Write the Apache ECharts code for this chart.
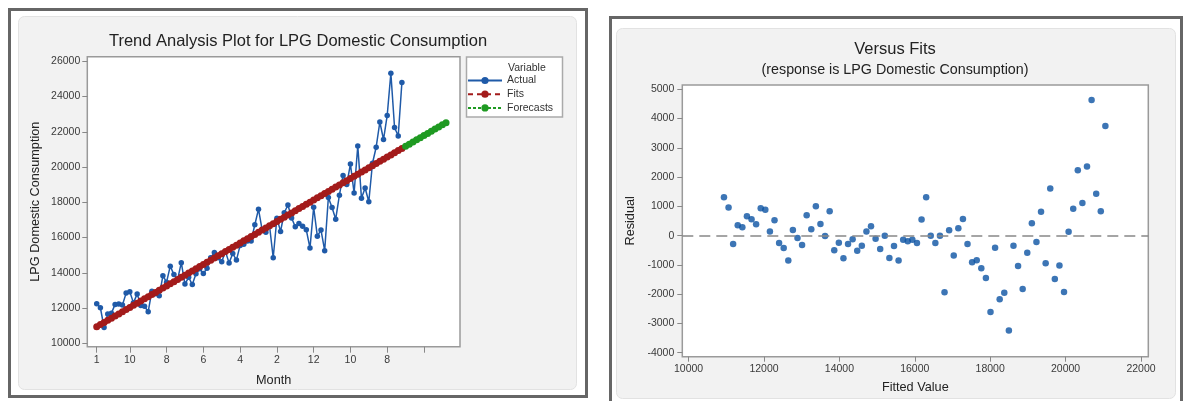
<!DOCTYPE html>
<html><head><meta charset="utf-8">
<script src="https://cdn.jsdelivr.net/npm/echarts@6/dist/echarts.min.js"></script>
<style>html,body{margin:0;padding:0;background:#fff}#c{width:1185px;height:401px}</style>
</head><body><div id="c"></div>
<script>
// ---- data ----
const trendIntercept = 10816;   // Yt = a + b*t
const trendSlope = 121.9;
const forecastPeriods = 12;
const actual = [
  12248,12017,10897,11657,11711,12208,12227,12178,12847,12923,
  12294,12803,12150,12102,11791,12960,12808,12691,13827,13470,
  14378,13897,13609,14573,13363,13746,13333,13944,14226,13960,
  14253,14854,15158,14858,14627,15204,14563,15095,14720,15555,
  15620,15799,15807,16727,17612,16423,16294,16667,14853,17093,
  16350,17406,17846,17114,16610,16799,16648,16440,15400,17720,
  16077,16426,15256,18276,17704,17039,18402,19526,19011,20169,
  18526,21199,18234,18812,18034,20217,21125,22556,21562,22926,
  25326,22247,21765,24803
];
const monthTickIdx = [1,10,20,30,40,50,60,70,80,90];
const monthTickLabels = ['1','10','8','6','4','2','12','10','8',''];
const consumptionTicks = [10000,12000,14000,16000,18000,20000,22000,24000,26000];
const fittedTicks = [10000,12000,14000,16000,18000,20000,22000];
const residualTicks = [-4000,-3000,-2000,-1000,0,1000,2000,3000,4000,5000];

// ---- derived series ----
const actualData = actual.map((v, i) => [i + 1, v]);
const fitsData = actual.map((v, i) => [i + 1, trendIntercept + trendSlope * (i + 1)]);
const forecastData = [];
for (let t = actual.length + 1; t <= actual.length + forecastPeriods; t++) {
  forecastData.push([t, trendIntercept + trendSlope * t]);
}
const residData = actual.map((v, i) => [fitsData[i][1], v - fitsData[i][1]]);

const FONT = '"Liberation Sans", Arial, sans-serif';
const LBL = {fontFamily: FONT, fontSize: 10.5, color: '#3a3a3a'};
const NAME = {fontFamily: FONT, fontSize: 12.7, color: '#222'};
const BLUE = '#1f5aa8', RED = '#a31b1b', GREEN = '#1f9a22', DOT = '#0b52a3';

const chart = echarts.init(document.getElementById('c'), null, {renderer: 'canvas'});
chart.setOption({
  animation: false,
  backgroundColor: '#fff',
  graphic: [
    {type: 'rect', z: -10, shape: {x: 9.5, y: 9.5, width: 577, height: 387}, style: {fill: '#fff', stroke: '#666', lineWidth: 3}},
    {type: 'rect', z: -9, shape: {x: 18.5, y: 16.5, width: 558, height: 373, r: 6}, style: {fill: '#f2f2f2', stroke: '#e2e2e2', lineWidth: 1}},
    {type: 'rect', z: -10, shape: {x: 610.5, y: 17.5, width: 571, height: 400}, style: {fill: '#fff', stroke: '#666', lineWidth: 3}},
    {type: 'rect', z: -9, shape: {x: 616.5, y: 28.5, width: 559, height: 370, r: 6}, style: {fill: '#f2f2f2', stroke: '#e2e2e2', lineWidth: 1}},
    {type: 'rect', z: -5, shape: {x: 466.5, y: 57, width: 96, height: 60}, style: {fill: '#fff', stroke: '#aaa', lineWidth: 1.5}},
    {type: 'text', z: 5, x: 508, y: 68.5, style: {text: 'Variable', font: '10.5px ' + FONT, fill: '#333', align: 'left', verticalAlign: 'middle'}},
    {type: 'text', z: 5, x: 298, y: 41, style: {text: 'Trend Analysis Plot for LPG Domestic Consumption', font: '16.5px ' + FONT, fill: '#222', align: 'center', verticalAlign: 'middle'}},
    {type: 'text', z: 5, x: 895, y: 49.5, style: {text: 'Versus Fits', font: '16.5px ' + FONT, fill: '#222', align: 'center', verticalAlign: 'middle'}},
    {type: 'text', z: 5, x: 895, y: 70, style: {text: '(response is LPG Domestic Consumption)', font: '14.3px ' + FONT, fill: '#222', align: 'center', verticalAlign: 'middle'}}
  ],
  legend: {
    data: [
      {name: 'Actual', lineStyle: {width: 2}},
      {name: 'Fits', lineStyle: {width: 2, type: [5, 4]}},
      {name: 'Forecasts', lineStyle: {width: 2, type: [3, 2]}}
    ],
    orient: 'vertical', left: 467, top: 74.5, padding: 0,
    itemWidth: 34, itemHeight: 9, itemGap: 1.7,
    textStyle: {fontFamily: FONT, fontSize: 10.5, color: '#333', lineHeight: 12},
    selectedMode: false
  },
  grid: [
    {left: 87.3, top: 56.7, width: 372.7, height: 290, show: true, backgroundColor: '#fff', borderColor: '#9a9a9a', borderWidth: 1.5},
    {left: 682.3, top: 85, width: 466, height: 271.7, show: true, backgroundColor: '#fff', borderColor: '#9a9a9a', borderWidth: 1.5}
  ],
  xAxis: [
    {type: 'value', gridIndex: 0, min: -1.56, max: 99.8,
     axisLine: {show: false, onZero: false}, splitLine: {show: false},
     axisTick: {show: true, customValues: monthTickIdx, length: 6, lineStyle: {color: '#888'}},
     axisLabel: {customValues: monthTickIdx, margin: 8, ...LBL,
       formatter: v => { const k = monthTickIdx.indexOf(v); return k >= 0 ? monthTickLabels[k] : ''; }},
     name: 'Month', nameLocation: 'middle', nameGap: 27, nameTextStyle: NAME},
    {type: 'value', gridIndex: 1, min: 9833, max: 22194,
     axisLine: {show: false, onZero: false}, splitLine: {show: false},
     axisTick: {show: true, customValues: fittedTicks, length: 5, lineStyle: {color: '#888'}},
     axisLabel: {customValues: fittedTicks, margin: 7, ...LBL, formatter: v => String(v)},
     name: 'Fitted Value', nameLocation: 'middle', nameGap: 24, nameTextStyle: NAME}
  ],
  yAxis: [
    {type: 'value', gridIndex: 0, min: 9807, max: 26261,
     axisLine: {show: false, onZero: false}, splitLine: {show: false},
     axisTick: {show: true, customValues: consumptionTicks, length: 5, lineStyle: {color: '#888'}},
     axisLabel: {customValues: consumptionTicks, margin: 7, ...LBL, formatter: v => String(v)},
     name: 'LPG Domestic Consumption', nameLocation: 'middle', nameGap: 45, nameTextStyle: NAME},
    {type: 'value', gridIndex: 1, min: -4137, max: 5147,
     axisLine: {show: false, onZero: false}, splitLine: {show: false},
     axisTick: {show: true, customValues: residualTicks, length: 5, lineStyle: {color: '#888'}},
     axisLabel: {customValues: residualTicks, margin: 8, ...LBL, formatter: v => String(v)},
     name: 'Residual', nameLocation: 'middle', nameGap: 45, nameTextStyle: NAME}
  ],
  series: [
    {name: 'Actual', type: 'line', xAxisIndex: 0, yAxisIndex: 0, data: actualData,
     symbol: 'circle', symbolSize: 5.5, showSymbol: true, color: BLUE,
     lineStyle: {color: BLUE, width: 1.5}, itemStyle: {color: BLUE}},
    {name: 'Fits', type: 'line', xAxisIndex: 0, yAxisIndex: 0, data: fitsData,
     symbol: 'circle', symbolSize: 7, showSymbol: true, color: RED,
     lineStyle: {color: RED, width: 5, type: [8, 1]}, itemStyle: {color: RED}},
    {name: 'Forecasts', type: 'line', xAxisIndex: 0, yAxisIndex: 0, data: forecastData,
     symbol: 'circle', symbolSize: 7, showSymbol: true, color: GREEN,
     lineStyle: {color: GREEN, width: 5, type: [8, 1]}, itemStyle: {color: GREEN}},
    {name: 'Residuals', type: 'scatter', xAxisIndex: 1, yAxisIndex: 1, data: residData,
     symbol: 'circle', symbolSize: 6.5, itemStyle: {color: DOT},
     markLine: {silent: true, symbol: 'none', label: {show: false},
       lineStyle: {color: '#888', type: [11, 6], width: 1.5}, data: [{yAxis: 0}]}}
  ]
});
</script></body></html>
